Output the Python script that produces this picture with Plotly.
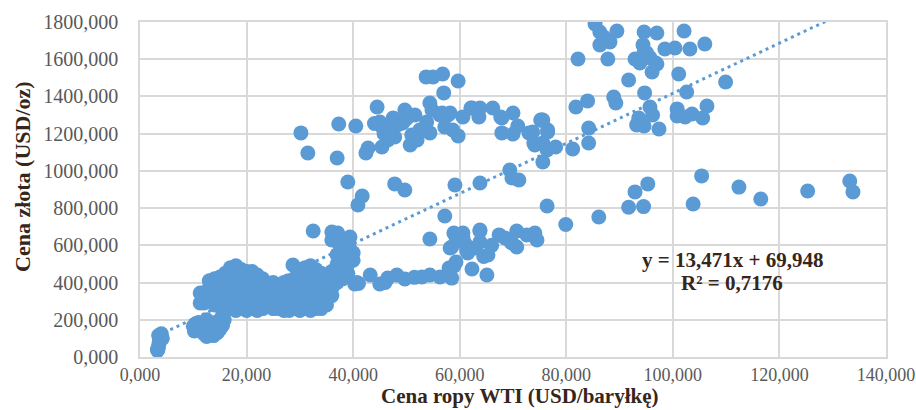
import plotly.graph_objects as go

# ---- data: (oil price WTI USD/bbl, gold price USD/oz) ----
oil_low = [3.3, 3.4, 3.5, 3.6, 3.7, 3.9, 3.5, 4.0, 4.2, 3.3,
           10.0, 10.5, 11.0, 11.5, 12.0, 12.5, 13.0, 13.8, 14.5, 15.0, 15.5, 15.8, 12.2, 11.0, 12.5,
           13.5, 14.5, 15.5, 16.0, 10.2, 11.8, 11.3, 11.3]
gold_low = [35, 45, 60, 80, 95, 105, 115, 125, 100, 40,
            165, 180, 150, 140, 125, 110, 120, 115, 130, 150, 170, 200, 160, 185, 200,
            175, 190, 230, 260, 140, 170, 344, 290]

oil_blob = [12, 12, 12, 13, 13, 13, 14, 14, 14, 14, 14, 15, 15, 15, 15,
            16, 16, 16, 16, 16, 17, 17, 17, 17, 17, 17,
            18, 18, 18, 18, 18, 18, 18, 19, 19, 19, 19, 19, 19,
            20, 20, 20, 20, 20, 20, 21, 21, 21, 21, 21, 21,
            22, 22, 22, 22, 22, 22, 23, 23, 23, 23, 23, 24, 24, 24, 24,
            25, 25, 25, 25, 25, 26, 26, 26, 26, 27, 27, 27, 27, 27,
            28, 28, 28, 28, 28, 29, 29, 29, 29, 29, 28.7,
            30, 30, 30, 30, 30, 30, 31, 31, 31, 31, 31, 31,
            32, 32, 32, 32, 32, 32, 32, 33, 33, 33, 33, 33, 33,
            34, 34, 34, 34, 34, 34, 35, 35, 35, 35, 35, 36, 36, 36, 36,
            37, 37, 37, 37, 38, 38, 38, 38, 38, 39, 39, 39, 40, 40,
            38.0, 39.4, 37.9, 36.2, 35.6, 40.7]
gold_blob = [290, 330, 345, 300, 370, 410, 280, 320, 360, 400, 420, 300, 350, 390, 430,
             270, 310, 360, 410, 450, 260, 300, 340, 390, 440, 480,
             250, 290, 330, 370, 420, 470, 490, 260, 300, 350, 400, 450, 470,
             250, 290, 330, 380, 420, 460, 260, 300, 350, 400, 440, 460,
             250, 280, 320, 370, 410, 440, 260, 300, 340, 380, 420, 270, 310, 350, 390,
             260, 290, 330, 370, 400, 260, 300, 340, 380, 250, 280, 320, 360, 400,
             250, 290, 330, 370, 410, 260, 300, 340, 380, 420, 494,
             250, 290, 330, 370, 410, 450, 260, 300, 340, 380, 420, 480,
             250, 290, 330, 370, 410, 460, 490, 260, 300, 340, 380, 430, 470,
             260, 290, 330, 370, 410, 450, 280, 320, 360, 400, 440, 330, 370, 410, 460,
             400, 450, 500, 550, 420, 470, 520, 560, 600, 450, 500, 540, 520, 560,
             564, 521, 478, 441, 333, 400]

oil_band = [32.5, 36.0, 37.1, 39.4, 36.0, 37.5, 39.2, 38.8, 37.5, 40.3, 43.2, 45.0, 46.5, 48.2,
            49.7, 52.9, 54.4, 56.3, 58.5, 58.0, 59.3, 54.4, 58.9, 60.6, 58.5, 61.5, 62.9, 63.8,
            63.8, 65.3, 62.3, 65.1, 67.4, 69.8, 70.7, 70.7, 72.6, 74.1, 74.5, 59.3, 60.6, 63.8,
            69.6, 68.5, 66.0, 61.0, 64.5, 58.2, 61.3, 58.9, 46.0, 51.5, 41.0]
gold_band = [677, 672, 666, 645, 629, 602, 602, 521, 521, 392, 441, 392, 424, 441,
             419, 430, 441, 430, 424, 478, 510, 634, 666, 666, 591, 559, 586, 682,
             618, 548, 473, 441, 656, 613, 677, 591, 656, 666, 629, 645, 645, 677,
             618, 640, 600, 610, 540, 586, 575, 489, 400, 428, 395]

oil_mid = [30.2, 31.5, 37.3, 40.5, 37.0, 39.0, 41.7, 42.4, 42.8, 44.5, 45.0, 45.6, 46.5, 45.4,
           47.5, 49.7, 49.3, 51.6, 51.0, 50.7, 52.5, 53.8, 54.4, 54.4, 54.8, 53.7, 55.0, 56.8,
           59.7, 57.0, 56.3, 58.2, 57.2, 59.7, 60.6, 62.3, 63.8, 63.6, 66.2, 67.9, 70.0, 67.9,
           70.9, 70.0, 73.7, 75.4, 76.5, 74.1, 75.6, 76.4, 69.4, 69.8, 71.1, 63.8, 59.1, 47.8,
           49.7, 40.9, 46.3, 47.8, 53.1, 52.0, 56.7, 57.8, 58.7, 48.5, 50.0, 44.0, 45.8, 73.0,
           75.2, 73.9, 67.7, 62.1]
gold_mid = [1204, 1096, 1252, 1241, 1069, 940, 865, 1096, 1123, 1343, 1263, 1230, 1166, 1128,
            1284, 1327, 1257, 1300, 1193, 1139, 1220, 1263, 1204, 1365, 1327, 1505, 1505, 1521,
            1483, 1419, 1300, 1311, 1236, 1188, 1290, 1338, 1338, 1290, 1338, 1284, 1311, 1204,
            1241, 1198, 1209, 1273, 1220, 1139, 1048, 1112, 1005, 962, 951, 935, 924, 930,
            897, 817, 1236, 1182, 1220, 1166, 1311, 1300, 1220, 1250, 1280, 1255, 1200, 1204,
            1273, 1150, 1290, 1338]

oil_high = [85.4, 86.3, 89.5, 86.3, 88.2, 87.0, 82.2, 87.8, 94.6, 97.0, 102.1, 94.4, 98.5, 100.4,
            103.2, 106.0, 92.9, 95.1, 95.7, 97.0, 96.1, 93.8, 91.7, 101.1, 109.9, 94.7, 102.6,
            88.9, 89.3, 84.0, 81.8, 95.7, 96.2, 93.6, 93.2, 94.6, 97.4, 100.8, 100.8, 102.3,
            103.6, 106.4, 105.6, 84.2, 84.2, 81.2, 78.0, 75.6, 76.5, 75.6, 96.8, 94.6, 95.5]
gold_high = [1789, 1746, 1752, 1677, 1693, 1720, 1601, 1601, 1746, 1741, 1752, 1677, 1655, 1660,
             1655, 1682, 1601, 1633, 1607, 1574, 1531, 1580, 1488, 1521, 1478, 1419, 1424,
             1397, 1365, 1376, 1343, 1343, 1300, 1284, 1247, 1241, 1225, 1333, 1295, 1290,
             1306, 1349, 1284, 1230, 1150, 1118, 1128, 1273, 1209, 1150, 1580, 1639, 1612]

oil_right = [105.4, 112.4, 116.5, 125.3, 133.2, 133.8, 76.4, 92.9, 95.3, 91.7, 94.5, 103.8,
             79.9, 86.1, 57.2]
gold_right = [973, 913, 849, 892, 946, 887, 811, 887, 930, 805, 808, 822,
              712, 752, 758]

trend_slope = 13.471
trend_intercept = 69.948
eq_text = "y = 13,471x + 69,948"
r2_text = "R² = 0,7176"

x_title = "Cena ropy WTI (USD/baryłkę)"
y_title = "Cena złota (USD/oz)"

oil = oil_low + oil_blob + oil_band + oil_mid + oil_high + oil_right
gold = gold_low + gold_blob + gold_band + gold_mid + gold_high + gold_right

blue = "#5b9bd5"
grid = "#d9d9d9"
dark = "#36261a"
serif = "Liberation Serif"

fig = go.Figure()
fig.add_trace(go.Scatter(
    x=oil, y=gold, mode="markers",
    marker=dict(size=15, color=blue, line=dict(width=0)),
    hoverinfo="skip"))

xmin, xmax = min(oil), max(oil)
fig.add_trace(go.Scatter(
    x=[xmin, xmax],
    y=[trend_slope * xmin + trend_intercept, trend_slope * xmax + trend_intercept],
    mode="lines",
    line=dict(color=blue, width=3, dash="3px,4px"),
    hoverinfo="skip"))

fig.update_layout(
    width=916, height=410,
    margin=dict(l=140, r=30, t=22, b=53, autoexpand=False),
    plot_bgcolor="white", paper_bgcolor="white",
    showlegend=False,
    separators=", ",
)
fig.update_xaxes(
    range=[0, 140], tick0=0, dtick=20, tickformat=".3f", automargin=False,
    showgrid=True, gridcolor=grid, gridwidth=1.6,
    zeroline=False, showline=True, linecolor=grid, linewidth=1.6, mirror=True,
    ticks="", ticklabelstandoff=1,
    tickfont=dict(family=serif, size=18, color="#595959"),
)
fig.update_yaxes(
    range=[0, 1800], tick0=0, dtick=200, tickformat=".3f", automargin=False,
    showgrid=True, gridcolor=grid, gridwidth=1.6,
    zeroline=False, showline=True, linecolor=grid, linewidth=1.6, mirror=True,
    ticks="", ticklabelstandoff=16,
    tickfont=dict(family=serif, size=20, color="#595959"),
)

def px_x(p):
    return (p - 140) / 746.0

def px_y(p):
    return (357 - p) / 335.0

fig.add_annotation(text=x_title, xref="paper", yref="paper",
                   x=px_x(520), y=px_y(396), xanchor="center", yanchor="middle",
                   showarrow=False, font=dict(family=serif, size=21, color=dark, weight="bold"))
fig.add_annotation(text=y_title, xref="paper", yref="paper", textangle=-90,
                   x=px_x(22), y=px_y(177), xanchor="center", yanchor="middle",
                   showarrow=False, font=dict(family=serif, size=22, color=dark, weight="bold"))
fig.add_annotation(text=eq_text, xref="paper", yref="paper",
                   x=px_x(732), y=px_y(260), xanchor="center", yanchor="middle",
                   showarrow=False, font=dict(family=serif, size=21, color=dark, weight="bold"))
fig.add_annotation(text=r2_text, xref="paper", yref="paper",
                   x=px_x(732), y=px_y(283), xanchor="center", yanchor="middle",
                   showarrow=False, font=dict(family=serif, size=21, color=dark, weight="bold"))

fig.write_html("out.html")
